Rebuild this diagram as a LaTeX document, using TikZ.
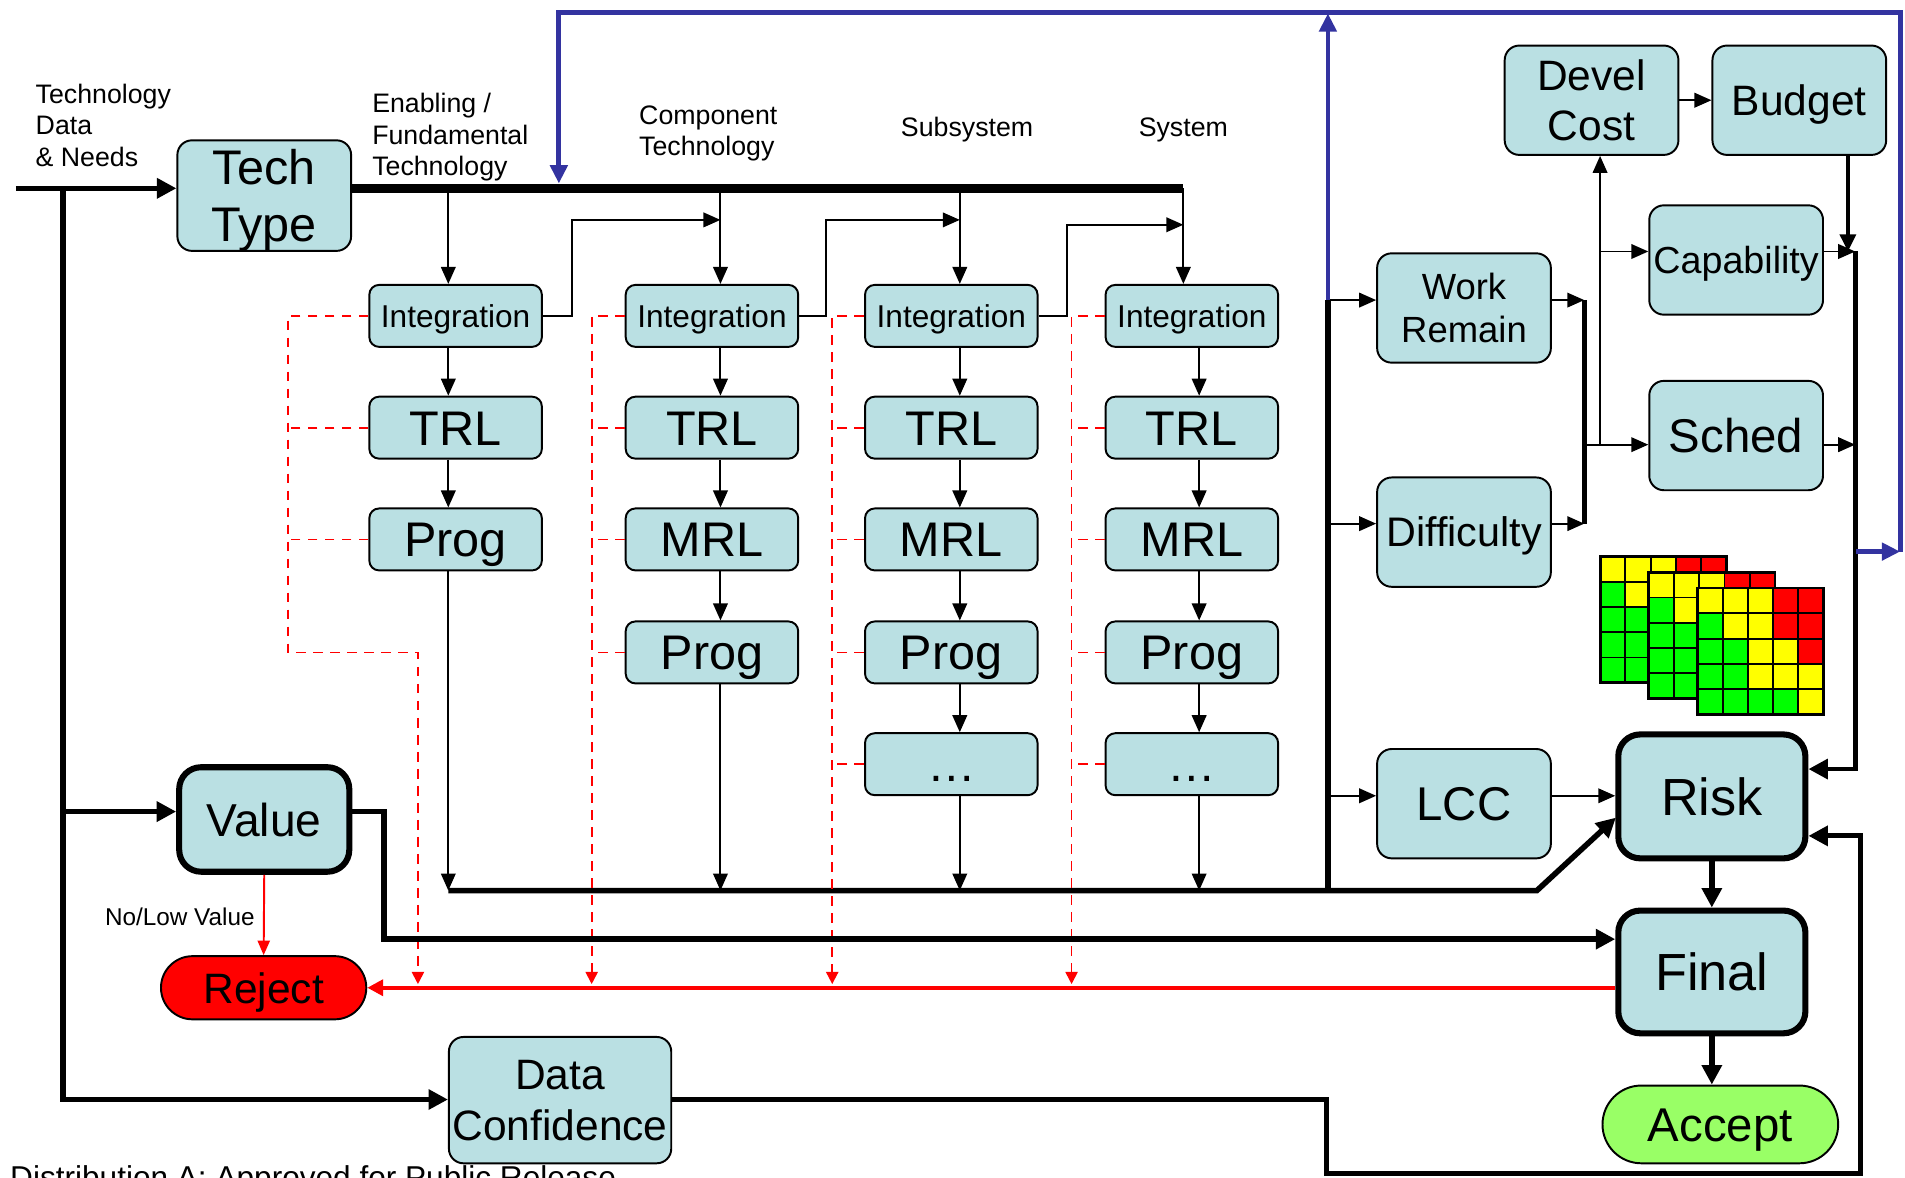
\documentclass[tikz,border=0pt]{standalone}
\usepackage{fontspec}
\setmainfont{Liberation Sans}
\usepackage{xcolor}
\usepackage{tikz}
\usetikzlibrary{arrows.meta}
\definecolor{boxblue}{RGB}{186,224,227}
\definecolor{loopblue}{RGB}{51,51,160}
\definecolor{acceptgreen}{RGB}{153,255,102}
\definecolor{cellY}{RGB}{255,255,0}
\definecolor{cellR}{RGB}{255,0,0}
\definecolor{cellG}{RGB}{0,255,0}

\begin{document}
\begin{tikzpicture}[x=0.5pt, y=-0.5pt,
    box/.style={draw, line width=0.8pt, rounded corners=4pt, fill=boxblue,
        minimum width=71pt, minimum height=25.5pt, inner sep=0pt, align=center,
        font=\fontsize{20}{23.5}\selectfont},
    capsh/.style={text height=#1, text depth=0pt},
    colbox/.style={box, capsh=14.4pt},
    intbox/.style={box, capsh=9.4pt, font=\fontsize{13}{15}\selectfont},
    bigbox/.style={box, minimum width=71.5pt, minimum height=45pt, rounded corners=6pt},
    heavybox/.style={bigbox, line width=2.5pt, minimum width=77pt, minimum height=51pt,
        rounded corners=9pt, font=\fontsize{21.5}{25}\selectfont},
    lbl/.style={inner sep=0pt, font=\fontsize{11}{13}\selectfont},
    thinarrow/.style={line width=0.8pt, -{Triangle[length=7pt,width=6pt]}},
    heavyarrow/.style={line width=2.3pt, -{Triangle[length=8pt,width=8pt]}},
    bluearrow/.style={draw=loopblue, line width=2pt, -{Triangle[length=7.5pt,width=7pt]}},
    reddash/.style={red, line width=0.75pt, dash pattern=on 4pt off 3pt},
    reddasharrow/.style={reddash, -{Triangle[length=5pt,width=5pt]}},
    redarrow/.style={red, line width=1.8pt, -{Triangle[length=6.5pt,width=6.5pt]}}]
    \useasboundingbox (0,0) rectangle (1568,969);
    \fill[white] (0,0) rectangle (1568,969);

    % Labels
    \node[lbl, anchor=west, align=left] (lbltech) at (29,103) {Technology\\Data\\\& Needs};
    \node[lbl, anchor=west, align=left] (lblenab) at (306,113) {Enabling /\\Fundamental\\Technology};
    \node[lbl, align=left] (lblcomp) at (583,110) {Component\\Technology};
    \node[lbl] (lblsub) at (796,107) {Subsystem};
    \node[lbl] (lblsys) at (974,107) {System};
    \node[lbl, font=\fontsize{10}{12}\selectfont] (lblnolow) at (148,755) {No/Low Value};
    \node[lbl, anchor=base west, font=\fontsize{13}{15}\selectfont] (lbldist) at (8,978)
        {Distribution A: Approved for Public Release};

    % Left side boxes
    \node[bigbox, minimum height=45.5pt, text depth=0pt] (techtype) at (217.5,161) {Tech\\Type};
    \node[heavybox, minimum width=70pt, minimum height=43pt, font=\fontsize{19}{22}\selectfont,
        capsh=13.7pt] (value) at (217.5,674.5) {Value};
    \node[draw, line width=0.8pt, fill=red, rounded corners=13pt, minimum width=84.5pt,
        minimum height=26pt, font=\fontsize{17.5}{20}\selectfont, capsh=12.6pt] (reject) at (217,813) {Reject};
    \node[bigbox, minimum width=91.5pt, minimum height=52pt, font=\fontsize{17.5}{21}\selectfont]
        (dconf) at (461,905.5) {Data\\Confidence};

    % Columns
    \node[intbox] (int1) at (375,260) {Integration};
    \node[colbox] (trl1) at (375,352) {TRL};
    \node[colbox] (prog1) at (375,444) {Prog};
    \node[intbox] (int2) at (586,260) {Integration};
    \node[colbox] (trl2) at (586,352) {TRL};
    \node[colbox] (mrl2) at (586,444) {MRL};
    \node[colbox] (prog2) at (586,537) {Prog};
    \node[intbox] (int3) at (783,260) {Integration};
    \node[colbox] (trl3) at (783,352) {TRL};
    \node[colbox] (mrl3) at (783,444) {MRL};
    \node[colbox] (prog3) at (783,537) {Prog};
    \node[colbox] (more3) at (783,629) {…};
    \node[intbox] (int4) at (981,260) {Integration};
    \node[colbox] (trl4) at (981,352) {TRL};
    \node[colbox] (mrl4) at (981,444) {MRL};
    \node[colbox] (prog4) at (981,537) {Prog};
    \node[colbox] (more4) at (981,629) {…};

    % Right side boxes
    \node[bigbox, font=\fontsize{15}{18}\selectfont] (work) at (1205,253.5) {Work\\Remain};
    \node[bigbox, font=\fontsize{17}{20}\selectfont, capsh=12.2pt] (diff) at (1205,438) {Difficulty};
    \node[bigbox, font=\fontsize{19.5}{22}\selectfont, capsh=14pt] (lcc) at (1205,661.5) {LCC};
    \node[bigbox, font=\fontsize{17.5}{20.5}\selectfont] (devel) at (1310,82.5) {Devel\\Cost};
    \node[bigbox, font=\fontsize{17.5}{20.5}\selectfont, capsh=12.6pt] (budget) at (1481,82.5) {Budget};
    \node[bigbox, font=\fontsize{15.5}{18}\selectfont, capsh=11.2pt] (capab) at (1429,214) {Capability};
    \node[bigbox, font=\fontsize{19.5}{22}\selectfont, capsh=14pt] (sched) at (1429,358.5) {Sched};
    \node[heavybox, capsh=15.5pt] (risk) at (1409,655.5) {Risk};
    \node[heavybox, minimum height=50.5pt, capsh=15.5pt] (final) at (1409,800) {Final};
    \node[draw, line width=0.8pt, fill=acceptgreen, rounded corners=16pt, minimum width=97pt,
        minimum height=32pt, font=\fontsize{19.5}{22}\selectfont, capsh=14pt] (accept) at (1416,925.5) {Accept};

    % Risk matrices
    \foreach \gx/\gy in {1317/458,1357/471,1397/484} {
        \foreach \cells [count=\r from 0] in {{Y,Y,Y,R,R},{G,Y,Y,R,R},{G,G,Y,Y,R},{G,G,Y,Y,Y},{G,G,G,G,Y}}
            \foreach \c [count=\k from 0] in \cells
                \filldraw[fill=cell\c, line width=0.8pt] ({\gx+\k*20.8},{\gy+\r*20.8}) rectangle ++(20.8,20.8);
        \draw[line width=1.2pt] (\gx,\gy) rectangle ++(104,104);
    }

    % Input and technology bus
    \coordinate (in0) at (13,155);
    \coordinate (l1) at (52,155);
    \coordinate (l2) at (52,668);
    \coordinate (l3) at (52,905);
    \coordinate (t1) at (369,155);
    \coordinate (t2) at (593,155);
    \coordinate (t3) at (790,155);
    \coordinate (t4) at (974,155);
    \draw[heavyarrow] (in0) -- (in0 -| techtype.west);
    \draw[heavyarrow] (l1) -- (l3) -- (l3 -| dconf.west);
    \draw[heavyarrow] (l2) -- (l2 -| value.west);
    \draw[line width=3.5pt] (techtype.east |- t1) -- (t4);
    \draw[thinarrow] (t1) -- (t1 |- int1.north);
    \draw[thinarrow] (t2) -- (t2 |- int2.north);
    \draw[thinarrow] (t3) -- (t3 |- int3.north);
    \draw[thinarrow] (t4) -- (t4 |- int4.north);

    % Integration hand-over between columns
    \coordinate (f1) at (471,181);
    \coordinate (f2) at (680,181);
    \coordinate (f3) at (878,185);
    \draw[thinarrow] (int1.east) -| (f1) -- (f1 -| t2);
    \draw[thinarrow] (int2.east) -| (f2) -- (f2 -| t3);
    \draw[thinarrow] (int3.east) -| (f3) -- (f3 -| t4);

    % Arrows down each column
    \coordinate (e1) at (369,733);
    \coordinate (e2) at (593,733);
    \coordinate (e3) at (790,733);
    \coordinate (e4) at (987,733);
    \draw[thinarrow] (int1.south -| e1) -- (trl1.north -| e1);
    \draw[thinarrow] (trl1.south -| e1) -- (prog1.north -| e1);
    \draw[thinarrow] (prog1.south -| e1) -- (e1);
    \draw[thinarrow] (int2.south -| e2) -- (trl2.north -| e2);
    \draw[thinarrow] (trl2.south -| e2) -- (mrl2.north -| e2);
    \draw[thinarrow] (mrl2.south -| e2) -- (prog2.north -| e2);
    \draw[thinarrow] (prog2.south -| e2) -- (e2);
    \draw[thinarrow] (int3.south -| e3) -- (trl3.north -| e3);
    \draw[thinarrow] (trl3.south -| e3) -- (mrl3.north -| e3);
    \draw[thinarrow] (mrl3.south -| e3) -- (prog3.north -| e3);
    \draw[thinarrow] (prog3.south -| e3) -- (more3.north -| e3);
    \draw[thinarrow] (more3.south -| e3) -- (e3);
    \draw[thinarrow] (int4.south -| e4) -- (trl4.north -| e4);
    \draw[thinarrow] (trl4.south -| e4) -- (mrl4.north -| e4);
    \draw[thinarrow] (mrl4.south -| e4) -- (prog4.north -| e4);
    \draw[thinarrow] (prog4.south -| e4) -- (more4.north -| e4);
    \draw[thinarrow] (more4.south -| e4) -- (e4);

    % Bottom bus into Risk
    \coordinate (bb1) at (1265,733);
    \coordinate (rkin) at (1330,673);
    \draw[heavyarrow] (e1) -- (bb1) -- (rkin);

    % Red reject paths
    \coordinate (r1a) at (237,260);
    \coordinate (r1b) at (237,537);
    \coordinate (r1c) at (344,537);
    \coordinate (r1d) at (344,810);
    \coordinate (r2a) at (487,260);
    \coordinate (r3a) at (685,260);
    \coordinate (r4a) at (882,260);
    \draw[reddasharrow] (int1.west) -- (r1a) -- (r1b) -- (r1c) -- (r1d);
    \draw[reddash] (trl1.west) -- (trl1.west -| r1a);
    \draw[reddash] (prog1.west) -- (prog1.west -| r1a);
    \draw[reddasharrow] (int2.west) -- (r2a) -- (r2a |- r1d);
    \draw[reddash] (trl2.west) -- (trl2.west -| r2a);
    \draw[reddash] (mrl2.west) -- (mrl2.west -| r2a);
    \draw[reddash] (prog2.west) -- (prog2.west -| r2a);
    \draw[reddasharrow] (int3.west) -- (r3a) -- (r3a |- r1d);
    \draw[reddash] (trl3.west) -- (trl3.west -| r3a);
    \draw[reddash] (mrl3.west) -- (mrl3.west -| r3a);
    \draw[reddash] (prog3.west) -- (prog3.west -| r3a);
    \draw[reddash] (more3.west) -- (more3.west -| r3a);
    \draw[reddasharrow] (int4.west) -- (r4a) -- (r4a |- r1d);
    \draw[reddash] (trl4.west) -- (trl4.west -| r4a);
    \draw[reddash] (mrl4.west) -- (mrl4.west -| r4a);
    \draw[reddash] (prog4.west) -- (prog4.west -| r4a);
    \draw[reddash] (more4.west) -- (more4.west -| r4a);
    \draw[redarrow] (final.west |- reject.east) -- (reject.east);
    \draw[red, line width=0.8pt, -{Triangle[length=6pt,width=5pt]}] (value.south) -- (reject.north);

    % Value and data confidence feeds
    \coordinate (v1) at (316,668);
    \coordinate (v2) at (316,773);
    \draw[heavyarrow] (value.east |- v1) -- (v1) -- (v2) -- (v2 -| final.west);
    \coordinate (dc1) at (1092,905);
    \coordinate (dc2) at (1092,966);
    \coordinate (dc3) at (1531,966);
    \coordinate (dc4) at (1531,688);
    \draw[heavyarrow, line width=2pt] (dconf.east |- dc1) -- (dc1) -- (dc2) -- (dc3) -- (dc4) -- (dc4 -| risk.east);

    % Cost and schedule branch
    \coordinate (j1) at (1093,247);
    \coordinate (j2) at (1093,431);
    \coordinate (j3) at (1093,655);
    \coordinate (j4) at (1093,733);
    \draw[line width=2.3pt] (j1) -- (j4);
    \draw[thinarrow] (j1) -- (j1 -| work.west);
    \draw[thinarrow] (j2) -- (j2 -| diff.west);
    \draw[thinarrow] (j3) -- (j3 -| lcc.west);
    \draw[thinarrow] (lcc.east |- j3) -- (j3 -| risk.west);
    \coordinate (m1) at (1304,247);
    \coordinate (m2) at (1304,431);
    \coordinate (m3) at (1304,366);
    \coordinate (s1) at (1317,366);
    \coordinate (s2) at (1317,207);
    \draw[line width=2pt] (m1) -- (m2);
    \draw[thinarrow] (work.east |- m1) -- (m1);
    \draw[thinarrow] (diff.east |- m2) -- (m2);
    \draw[thinarrow] (m3) -- (m3 -| sched.west);
    \draw[thinarrow] (s1) -- (s1 |- devel.south);
    \draw[thinarrow] (s2) -- (s2 -| capab.west);
    \draw[thinarrow] (devel.east) -- (budget.west);
    \coordinate (k0) at (1521,207);
    \coordinate (k1) at (1527,207);
    \coordinate (k2) at (1527,366);
    \coordinate (k3) at (1527,633);
    \draw[line width=1.5pt, -{Triangle[length=7pt,width=6.5pt]}] (budget.south -| k0) -- (k0);
    \draw[thinarrow] (capab.east |- k1) -- (k1);
    \draw[thinarrow] (sched.east |- k2) -- (k2);
    \draw[heavyarrow, line width=2pt] (k1) -- (k3) -- (k3 -| risk.east);
    \draw[heavyarrow] (risk.south) -- (final.north);
    \draw[heavyarrow] (final.south) -- (final.south |- accept.north);

    % Blue feedback loop
    \coordinate (b0) at (460,151);
    \coordinate (b1) at (460,10);
    \coordinate (b2) at (1093,11);
    \coordinate (b3) at (1564,10);
    \coordinate (b4) at (1564,454);
    \coordinate (b5) at (1528,454);
    \draw[bluearrow] (j1) -- (b2);
    \draw[bluearrow] (b5) -- (b4);
    \draw[bluearrow] (b4) -- (b3) -- (b1) -- (b0);
\end{tikzpicture}
\end{document}
